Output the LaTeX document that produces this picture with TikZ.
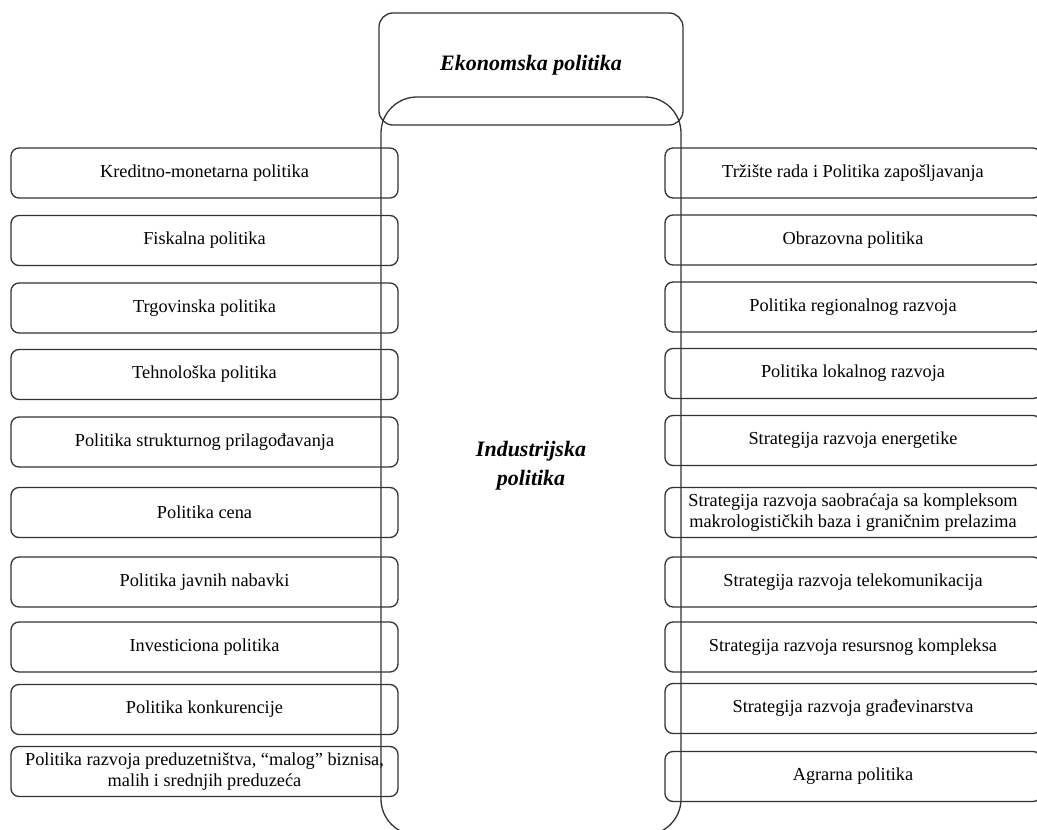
\documentclass[tikz,border=0pt]{standalone}
\usepackage{fontspec}
\setmainfont{Liberation Serif}
\begin{document}
\begin{tikzpicture}[x=1pt,y=-1pt,
  line/.style={draw=black!80, line width=1.3pt},
  lbox/.style={line, rounded corners=8pt, minimum width=387pt, minimum height=50pt,
    inner sep=0pt, align=center, font=\fontsize{18.3}{21}\selectfont},
  rbox/.style={lbox, minimum width=376pt},
  title/.style={font=\fontsize{22}{29}\selectfont\bfseries\itshape, align=center}
]
\useasboundingbox (0,0) rectangle (1037,830);
\clip (0,0) rectangle (1037,830);
% top box
\node[line, title, rounded corners=14pt, minimum width=304pt, minimum height=112pt, inner sep=0pt]
  (eko) at (531,69) {\raisebox{4pt}[\height][\depth]{Ekonomska politika}};
% central column
\node[line, title, rounded corners=36pt, minimum width=300pt, minimum height=738pt, inner sep=0pt]
  (ind) at (531,466) {Industrijska\\politika};
% left boxes
\node[lbox] (l1) at (204.5,173) {Kreditno-monetarna politika};
\node[lbox] (l2) at (204.5,240.5) {Fiskalna politika};
\node[lbox] (l3) at (204.5,308) {Trgovinska politika};
\node[lbox] (l4) at (204.5,374.5) {Tehnološka politika};
\node[lbox] (l5) at (204.5,442) {Politika strukturnog prilagođavanja};
\node[lbox] (l6) at (204.5,512.5) {Politika cena};
\node[lbox] (l7) at (204.5,582) {Politika javnih nabavki};
\node[lbox] (l8) at (204.5,647) {Investiciona politika};
\node[lbox] (l9) at (204.5,709.5) {Politika konkurencije};
\node[lbox] (l10) at (204.5,771.5) {Politika razvoja preduzetništva, “malog” biznisa,\\malih i srednjih preduzeća};
% right boxes
\node[rbox] (r1) at (853,173) {Tržište rada i Politika zapošljavanja};
\node[rbox] (r2) at (853,240) {Obrazovna politika};
\node[rbox] (r3) at (853,307) {Politika regionalnog razvoja};
\node[rbox] (r4) at (853,373.5) {Politika lokalnog razvoja};
\node[rbox] (r5) at (853,440.5) {Strategija razvoja energetike};
\node[rbox] (r6) at (853,512.5) {Strategija razvoja saobraćaja sa kompleksom\\makrologističkih baza i graničnim prelazima};
\node[rbox] (r7) at (853,582) {Strategija razvoja telekomunikacija};
\node[rbox] (r8) at (853,647) {Strategija razvoja resursnog kompleksa};
\node[rbox] (r9) at (853,708.5) {Strategija razvoja građevinarstva};
\node[rbox] (r10) at (853,776.5) {Agrarna politika};
\end{tikzpicture}
\end{document}
